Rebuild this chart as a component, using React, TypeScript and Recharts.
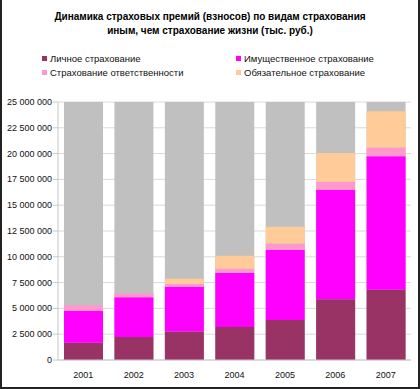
import React from "react";
import { BarChart, Bar, XAxis, YAxis, CartesianGrid } from "recharts";

const years = ["2001", "2002", "2003", "2004", "2005", "2006", "2007"];
const personal = [1680000, 2230000, 2750000, 3200000, 3880000, 5880000, 6810000];
const property = [3070000, 3840000, 4350000, 5230000, 6780000, 10620000, 12930000];
const liability = [550000, 390000, 260000, 420000, 640000, 780000, 860000];
const mandatory = [0, 0, 520000, 1250000, 1600000, 2780000, 3500000];
const yTicks = [0, 2500000, 5000000, 7500000, 10000000, 12500000, 15000000, 17500000, 20000000, 22500000, 25000000];

const seriesNames = {
  personal: "Личное страхование",
  property: "Имущественное страхование",
  liability: "Страхование ответственности",
  mandatory: "Обязательное страхование",
};
const colors = {
  personal: "#993366",
  property: "#FF00FF",
  liability: "#FF99CC",
  mandatory: "#FFCC99",
};

const data = years.map((y, i) => ({
  year: y,
  personal: personal[i],
  property: property[i],
  liability: liability[i],
  mandatory: mandatory[i],
}));

const fmt = (v: number) => String(v).replace(/\B(?=(\d{3})+(?!\d))/g, " ");

const font = "'Liberation Sans', Arial, sans-serif";

const YTick = (props: any) => {
  const { x, y, payload } = props;
  return (
    <text x={x} y={y} dy={3} textAnchor="end" fontSize={9} fill="#111" fontFamily={font} style={{ whiteSpace: "pre" }}>
      {fmt(payload.value)}
    </text>
  );
};

const LegendItem = ({ k, x, y }: { k: keyof typeof colors; x: number; y: number }) => (
  <div style={{ position: "absolute", left: x, top: y, display: "flex", alignItems: "center", fontSize: 9.5, color: "#111", whiteSpace: "nowrap" }}>
    <span style={{ display: "inline-block", width: 5, height: 5, background: colors[k], marginRight: 3 }} />
    {seriesNames[k]}
  </div>
);

export default function App() {
  return (
    <div style={{ position: "absolute", left: 0, top: 0, width: 420, height: 389, background: "#fff", fontFamily: font, overflow: "hidden" }}>
      <div style={{ position: "absolute", left: 0, top: 0, width: 1.5, height: 389, background: "#222" }} />
      <div style={{ position: "absolute", left: 418, top: 0, width: 2, height: 389, background: "#222" }} />
      <div style={{ position: "absolute", left: 0, top: 387, width: 420, height: 2, background: "#222" }} />
      <div style={{ position: "absolute", left: 0, top: 10, width: 420, textAlign: "center", fontWeight: "bold", fontSize: 10, lineHeight: "13.5px", color: "#000" }}>
        Динамика страховых премий (взносов) по видам страхования
        <br />
        иным, чем страхование жизни (тыс. руб.)
      </div>
      <LegendItem k="personal" x={42} y={53} />
      <LegendItem k="property" x={236} y={53} />
      <LegendItem k="liability" x={42} y={67} />
      <LegendItem k="mandatory" x={236} y={67} />
      <div style={{ position: "absolute", left: 0, top: 0 }}>
        <BarChart width={420} height={389} data={data} margin={{ top: 102, right: 9, bottom: 9, left: 0 }} barSize={39}>
          <CartesianGrid vertical={false} stroke="#d9d9d9" />
          <XAxis
            dataKey="year"
            tickLine={false}
            axisLine={{ stroke: "#c8c8c8" }}
            tick={{ fontSize: 9, fill: "#111", fontFamily: font }}
            height={20}
            tickMargin={6}
          />
          <YAxis
            width={58}
            domain={[0, 25000000]}
            ticks={yTicks}
            interval={0}
            axisLine={{ stroke: "#c8c8c8" }}
            tickLine={{ stroke: "#c8c8c8" }}
            tickSize={5}
            tickMargin={1}
            tick={<YTick />}
          />
          <Bar dataKey="personal" stackId="a" fill={colors.personal} background={{ fill: "#C0C0C0" }} isAnimationActive={false} />
          <Bar dataKey="property" stackId="a" fill={colors.property} isAnimationActive={false} />
          <Bar dataKey="liability" stackId="a" fill={colors.liability} isAnimationActive={false} />
          <Bar dataKey="mandatory" stackId="a" fill={colors.mandatory} isAnimationActive={false} />
        </BarChart>
      </div>
    </div>
  );
}
